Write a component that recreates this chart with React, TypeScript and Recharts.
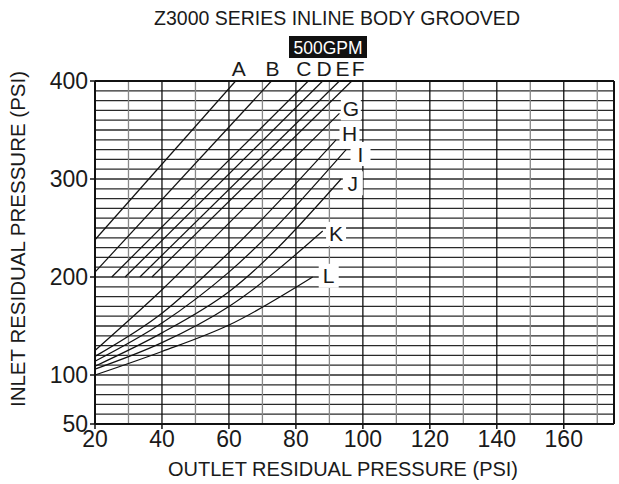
import { LineChart, Line, XAxis, YAxis, ReferenceLine, ReferenceDot } from "recharts"

const FONT = "'Liberation Sans', Arial, Helvetica, sans-serif"

const xTicks = [20, 40, 60, 80, 100, 120, 140, 160]
const yTicks = [50, 100, 200, 300, 400]
const gridX = [30, 40, 50, 60, 70, 80, 90, 100, 110, 120, 130, 140, 150, 160, 170]
const gridY = [60, 70, 80, 90, 100, 110, 120, 130, 140, 150, 160, 170, 180, 190, 200, 210, 220, 230, 240, 250, 260, 270, 280, 290, 300, 310, 320, 330, 340, 350, 360, 370, 380, 390]

// [outlet, inlet]
const curveA = [[20, 238], [62, 400]]
const curveB = [[20, 205], [72.7, 400]]
const curveC = [[25, 200], [83.7, 400]]
const curveD = [[29, 200], [88, 400]]
const curveE = [[33.4, 200], [93, 400]]
const curveF = [[37, 200], [96.7, 400]]
const curveG = [[20, 125], [40, 187], [60, 255], [93, 367]]
const curveH = [[20, 119], [40, 163], [60, 225], [92, 340]]
const curveI = [[20, 114], [40, 153], [60, 205], [95, 330]]
const curveJ = [[20, 109], [40, 143], [60, 185], [93.5, 300]]
const curveK = [[20, 106], [40, 133], [60, 170], [88, 247]]
const curveL = [[20, 100], [40, 124], [60, 151], [85, 200]]

const curveNames = ["A", "B", "C", "D", "E", "F", "G", "H", "I", "J", "K", "L"]
const curves = [curveA, curveB, curveC, curveD, curveE, curveF, curveG, curveH, curveI, curveJ, curveK, curveL]

// label anchors (data units)
const topLabelX = [62.9, 73.0, 82.4, 88.4, 93.9, 98.6]
const topLabelY = 413
const sideLabelX = [96.4, 96.0, 99.3, 97.0, 92.0, 89.8]
const sideLabelY = [372, 346, 325.5, 295.6, 244, 201.2]

const toRows = (pts: number[][]) => pts.map(([x, y]) => ({ x, y }))

const letter = (txt: string, boxed: boolean) => (p: any) => (
  <g>
    {boxed && <rect x={p.cx - 10} y={p.cy - 12} width={20} height={24} fill="#fff" />}
    <text x={p.cx} y={p.cy + 7.5} textAnchor="middle" fontSize={21} fontFamily={FONT} fill="#1a1a1a">
      {txt}
    </text>
  </g>
)

export default function App() {
  return (
    <div style={{ position: "absolute", left: 0, top: 0, width: 619, height: 484, background: "#fff" }}>
      <LineChart width={619} height={484} margin={{ top: 81, right: 5, bottom: 0, left: 0 }}>
        <XAxis
          type="number"
          dataKey="x"
          domain={[20, 175]}
          ticks={xTicks}
          height={60}
          tickSize={5}
          tickMargin={2}
          axisLine={{ stroke: "#111", strokeWidth: 2 }}
          tickLine={{ stroke: "#111", strokeWidth: 1.5 }}
          tick={{ fontSize: 23, fill: "#1a1a1a", fontFamily: FONT }}
        />
        <YAxis
          type="number"
          domain={[50, 400]}
          ticks={yTicks}
          width={95}
          tickSize={5}
          tickMargin={2}
          axisLine={{ stroke: "#111", strokeWidth: 2 }}
          tickLine={{ stroke: "#111", strokeWidth: 1.5 }}
          tick={{ fontSize: 23, fill: "#1a1a1a", fontFamily: FONT }}
        />
        {gridY.map((v) => (
          <ReferenceLine key={"h" + v} y={v} stroke="#2a2a2a" strokeWidth={1.3} />
        ))}
        {gridX.map((v) => (
          <ReferenceLine key={"v" + v} x={v} stroke={v % 20 === 0 ? "#111" : "#888"} strokeWidth={1.3} />
        ))}
        <ReferenceLine y={400} stroke="#111" strokeWidth={2} />
        <ReferenceLine x={175} stroke="#111" strokeWidth={2} />
        {curves.map((c, i) => (
          <Line
            key={curveNames[i]}
            data={toRows(c)}
            dataKey="y"
            type="monotone"
            stroke="#111"
            strokeWidth={1.2}
            dot={false}
            isAnimationActive={false}
          />
        ))}
        {topLabelX.map((x, i) => (
          <ReferenceDot key={"t" + i} x={x} y={topLabelY} r={0} ifOverflow="visible" shape={letter(curveNames[i], false)} />
        ))}
        {sideLabelX.map((x, i) => (
          <ReferenceDot key={"s" + i} x={x} y={sideLabelY[i]} r={0} ifOverflow="visible" shape={letter(curveNames[i + 6], true)} />
        ))}
      </LineChart>
      <svg width={619} height={484} style={{ position: "absolute", left: 0, top: 0, pointerEvents: "none" }} fontFamily={FONT}>
        <text x={337} y={25} textAnchor="middle" fontSize={19.5} fill="#1a1a1a">
          Z3000 SERIES INLINE BODY GROOVED
        </text>
        <rect x={289} y={36} width={78} height={22} fill="#111" />
        <text x={328} y={54} textAnchor="middle" fontSize={17.5} fill="#fff">
          500GPM
        </text>
        <text x={343} y={476} textAnchor="middle" fontSize={20} fill="#1a1a1a">
          OUTLET RESIDUAL PRESSURE (PSI)
        </text>
        <text transform="translate(25,239) rotate(-90)" textAnchor="middle" fontSize={20.5} fill="#1a1a1a">
          INLET RESIDUAL PRESSURE (PSI)
        </text>
      </svg>
    </div>
  )
}
